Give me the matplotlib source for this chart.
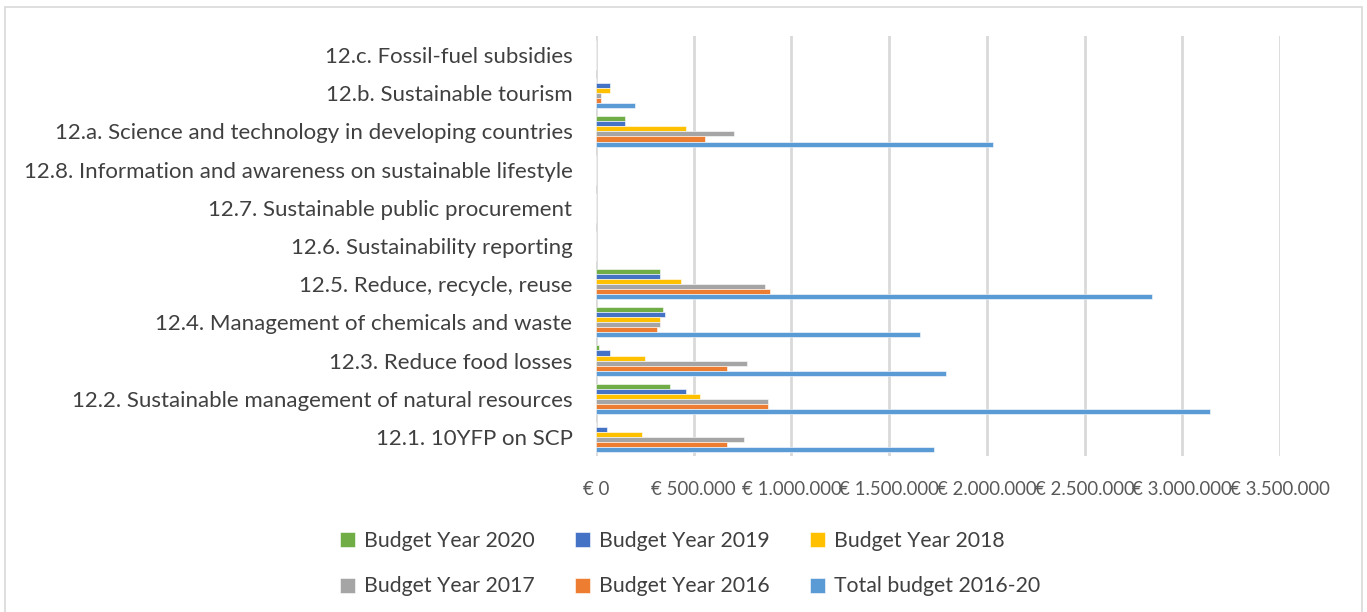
import matplotlib
matplotlib.use("Agg")
import matplotlib.pyplot as plt
from matplotlib.patches import Rectangle
import numpy as np

categories = [
    "12.1. 10YFP on SCP",
    "12.2. Sustainable management of natural resources",
    "12.3. Reduce food losses",
    "12.4. Management of chemicals and waste",
    "12.5. Reduce, recycle, reuse",
    "12.6. Sustainability reporting",
    "12.7. Sustainable public procurement",
    "12.8. Information and awareness on sustainable lifestyle",
    "12.a. Science and technology in developing countries",
    "12.b. Sustainable tourism",
    "12.c. Fossil-fuel subsidies",
]

total_2016_20 = [1730000, 3142000, 1790000, 1660000, 2845000, 0, 0, 0, 2032000, 200000, 0]
budget_2016 = [672000, 881000, 672000, 311000, 889000, 0, 0, 0, 560000, 26000, 0]
budget_2017 = [758000, 879000, 773000, 328000, 863000, 0, 0, 0, 708000, 26000, 0]
budget_2018 = [234000, 533000, 252000, 328000, 434000, 0, 0, 0, 461000, 72000, 0]
budget_2019 = [55000, 463000, 72000, 352000, 328000, 0, 0, 0, 150000, 72000, 0]
budget_2020 = [0, 379000, 14000, 342000, 328000, 0, 0, 0, 150000, 0, 0]

x_ticks = [0, 500000, 1000000, 1500000, 2000000, 2500000, 3000000, 3500000]
x_tick_labels = ["€ 0", "€ 500.000", "€ 1.000.000", "€ 1.500.000", "€ 2.000.000",
                 "€ 2.500.000", "€ 3.000.000", "€ 3.500.000"]

# series from top of group to bottom
series = [
    ("Budget Year 2020", budget_2020, "#70AD47"),
    ("Budget Year 2019", budget_2019, "#4472C4"),
    ("Budget Year 2018", budget_2018, "#FFC000"),
    ("Budget Year 2017", budget_2017, "#A5A5A5"),
    ("Budget Year 2016", budget_2016, "#ED7D31"),
    ("Total budget 2016-20", total_2016_20, "#5B9BD5"),
]

FONT = "Lato"
plt.rcParams["font.family"] = [FONT, "DejaVu Sans"]

W, H = 1367, 612
fig = plt.figure(figsize=(W / 100, H / 100), dpi=100)
ax = fig.add_axes([596 / W, 1 - 456 / H, (1280 - 596) / W, (456 - 36) / H])

y = np.arange(len(categories))
bh = 0.132
n = len(series)
handles = {}
for i, (name, vals, col) in enumerate(series):
    offset = (n - 1) / 2 * bh - i * bh
    b = ax.barh(y + offset, vals, height=bh, color=col, edgecolor="white",
                linewidth=0.4, label=name, zorder=3)
    handles[name] = b

ax.set_xlim(0, 3500000)
ax.set_ylim(-0.5, len(categories) - 0.5)
ax.set_xticks(x_ticks)
ax.set_xticklabels(x_tick_labels, fontsize=13.4, color="#595959")
ax.set_yticks(y)
ax.set_yticklabels(categories, fontsize=16, color="#404040")
ax.tick_params(axis="both", length=0)
ax.tick_params(axis="x", pad=18)
ax.tick_params(axis="y", pad=17)
ax.grid(axis="x", color="#D9D9D9", linewidth=2, zorder=0)
for s in ax.spines.values():
    s.set_visible(False)

order = ["Budget Year 2020", "Budget Year 2017", "Budget Year 2019",
         "Budget Year 2016", "Budget Year 2018", "Total budget 2016-20"]
leg = fig.legend([handles[k] for k in order], order, ncol=3,
                 loc="upper left", bbox_to_anchor=(340 / W, 1 - 531 / H),
                 borderpad=0, borderaxespad=0,
                 frameon=False, fontsize=15.3, handlelength=0.7, handleheight=0.7,
                 handletextpad=0.45, columnspacing=1.87, labelspacing=1.2)
for t in leg.get_texts():
    t.set_color("#404040")

fig.patches.append(Rectangle((5 / W, -0.02), (1362 - 5) / W, 1 - 7 / H + 0.02,
                             transform=fig.transFigure, fill=False,
                             edgecolor="#D9D9D9", linewidth=1.2))

fig.savefig("out.png", dpi=100, facecolor="white")
